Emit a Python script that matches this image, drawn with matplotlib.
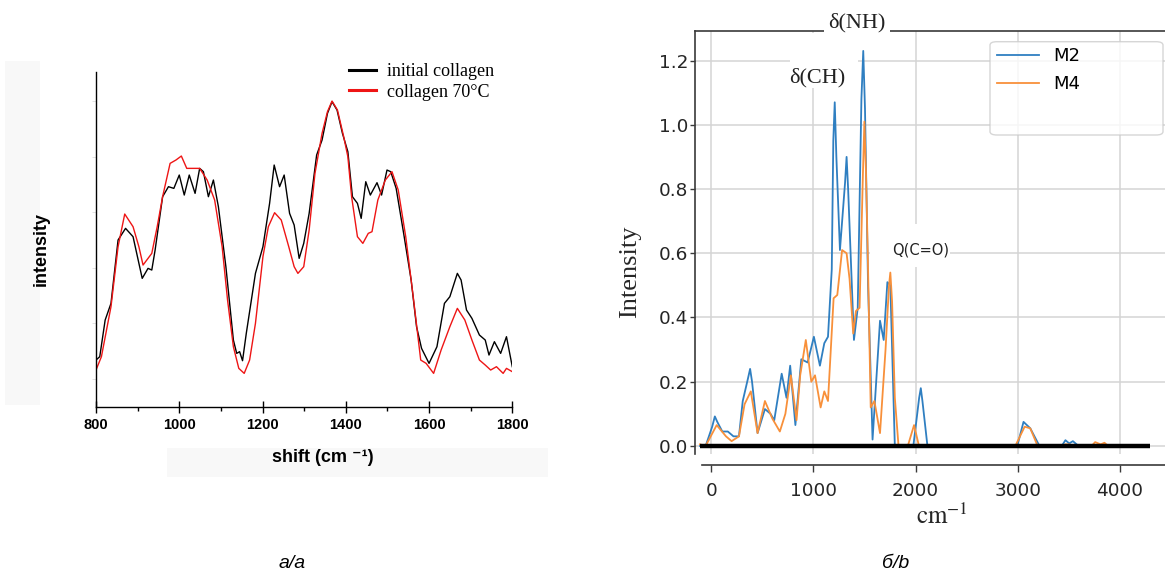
import matplotlib.pyplot as plt
from matplotlib.lines import Line2D
from matplotlib.patches import Rectangle, FancyBboxPatch

W, H = 1165, 572

# --- Raman spectra (relative intensity), 800-1800 cm-1 ---
shift_initial = [800, 809, 822, 836, 853, 871, 889, 911, 925, 934, 942, 960, 974, 987,
                 1000, 1012, 1024, 1038, 1049, 1058, 1070, 1082, 1094, 1112, 1130, 1138,
                 1145, 1152, 1161, 1183, 1201, 1217, 1228, 1241, 1252, 1265, 1276, 1288,
                 1299, 1312, 1330, 1343, 1356, 1367, 1379, 1392, 1405, 1416, 1428, 1437,
                 1448, 1459, 1475, 1486, 1499, 1508, 1521, 1539, 1557, 1570, 1582, 1600,
                 1619, 1637, 1650, 1668, 1677, 1690, 1703, 1721, 1735, 1744, 1757, 1772,
                 1786, 1800]
intensity_initial = [0.14, 0.15, 0.26, 0.31, 0.50, 0.535, 0.51, 0.385, 0.415, 0.41, 0.47,
                     0.63, 0.66, 0.655, 0.695, 0.635, 0.695, 0.64, 0.715, 0.705, 0.63, 0.68,
                     0.60, 0.42, 0.20, 0.16, 0.165, 0.138, 0.22, 0.40, 0.48, 0.61, 0.725,
                     0.66, 0.695, 0.58, 0.545, 0.445, 0.49, 0.58, 0.755, 0.80, 0.88, 0.915,
                     0.89, 0.82, 0.765, 0.63, 0.61, 0.565, 0.675, 0.635, 0.672, 0.635, 0.71,
                     0.705, 0.655, 0.52, 0.38, 0.24, 0.175, 0.13, 0.18, 0.31, 0.33, 0.40,
                     0.38, 0.29, 0.265, 0.215, 0.20, 0.155, 0.195, 0.16, 0.21, 0.12]

shift_heated = [800, 813, 836, 853, 869, 889, 903, 913, 934, 947, 960, 978, 992, 1005,
                1018, 1032, 1049, 1067, 1085, 1103, 1116, 1130, 1143, 1156, 1169, 1183,
                1201, 1214, 1229, 1245, 1263, 1276, 1285, 1299, 1312, 1326, 1343, 1356,
                1367, 1380, 1395, 1405, 1414, 1428, 1441, 1454, 1463, 1477, 1495, 1511,
                1526, 1544, 1562, 1580, 1593, 1611, 1629, 1650, 1668, 1686, 1703, 1721,
                1735, 1748, 1762, 1778, 1786, 1800]
intensity_heated = [0.11, 0.15, 0.30, 0.48, 0.578, 0.54, 0.48, 0.425, 0.46, 0.54, 0.63,
                    0.73, 0.74, 0.752, 0.715, 0.715, 0.715, 0.68, 0.62, 0.48, 0.32, 0.18,
                    0.115, 0.10, 0.14, 0.25, 0.45, 0.54, 0.582, 0.56, 0.48, 0.42, 0.40,
                    0.42, 0.53, 0.70, 0.82, 0.885, 0.917, 0.89, 0.81, 0.75, 0.63, 0.51,
                    0.49, 0.52, 0.525, 0.62, 0.68, 0.705, 0.65, 0.51, 0.33, 0.14, 0.13,
                    0.10, 0.17, 0.24, 0.295, 0.26, 0.20, 0.14, 0.125, 0.11, 0.12, 0.10,
                    0.115, 0.105]

# --- IR spectra, samples M2 and M4 ---
wn_m2 = [-110, -54, 10, 36, 60, 109, 163, 218, 272, 309, 360, 381, 400, 454, 526, 581,
         617, 690, 737, 773, 824, 882, 944, 1005, 1064, 1107, 1143, 1180, 1195, 1209,
         1225, 1260, 1310, 1325, 1340, 1397, 1434, 1470, 1488, 1505, 1535, 1579, 1652,
         1688, 1724, 1753, 1797, 1978, 2035, 2051, 2067, 2116, 2995, 3056, 3122, 3212,
         3430, 3466, 3503, 3539, 3594]
int_m2 = [0.0, 0.0, 0.06, 0.092, 0.075, 0.045, 0.045, 0.03, 0.03, 0.14, 0.21, 0.24, 0.2,
          0.04, 0.115, 0.10, 0.08, 0.225, 0.15, 0.25, 0.065, 0.27, 0.26, 0.34, 0.25, 0.32,
          0.34, 0.55, 0.95, 1.07, 0.9, 0.61, 0.82, 0.90, 0.8, 0.33, 0.43, 1.08, 1.23, 1.05,
          0.50, 0.02, 0.39, 0.33, 0.51, 0.50, 0.0, 0.0, 0.15, 0.18, 0.14, 0.0, 0.0, 0.075,
          0.055, 0.0, 0.0, 0.018, 0.008, 0.015, 0.0]

wn_m4 = [-110, -54, 54, 145, 200, 272, 327, 388, 454, 526, 599, 672, 726, 780, 835, 871,
         926, 980, 1016, 1071, 1107, 1143, 1198, 1234, 1281, 1325, 1354, 1390, 1416, 1452,
         1485, 1499, 1515, 1532, 1561, 1597, 1652, 1706, 1740, 1753, 1770, 1797, 1833,
         1924, 1985, 2033, 2976, 3067, 3122, 3194, 3430, 3466, 3503, 3539, 3721, 3757,
         3811, 3848, 3884]
int_m4 = [0.005, 0.0, 0.065, 0.03, 0.015, 0.03, 0.13, 0.17, 0.04, 0.14, 0.085, 0.045,
          0.10, 0.22, 0.08, 0.22, 0.33, 0.20, 0.22, 0.12, 0.17, 0.14, 0.46, 0.47, 0.61,
          0.60, 0.52, 0.35, 0.42, 0.43, 0.85, 1.01, 0.85, 0.60, 0.12, 0.14, 0.04, 0.30,
          0.50, 0.54, 0.45, 0.15, 0.0, 0.0, 0.065, 0.0, 0.0, 0.06, 0.055, 0.0, 0.0, 0.005,
          0.005, 0.0, 0.0, 0.012, 0.005, 0.01, 0.0]

baseline_span = [-106, 4290]
ir_xticks = [0, 1000, 2000, 3000, 4000]
ir_yticks = [0.0, 0.2, 0.4, 0.6, 0.8, 1.0, 1.2]

plt.rcParams['mathtext.fontset'] = 'stix'


def px_rect(x0, y0, x1, y1):
    """Pixel box (origin top-left) -> figure-fraction [left, bottom, width, height]."""
    return [x0 / W, 1 - y1 / H, (x1 - x0) / W, (y1 - y0) / H]


def px(x, y):
    return x / W, 1 - y / H


fig = plt.figure(figsize=(W / 100, H / 100), dpi=100)
fig.patch.set_facecolor('white')

# faint grey backing behind the left-panel axis titles
for box in [(5, 61, 40, 405), (167, 448, 548, 477)]:
    l, b, w, h = px_rect(*box)
    fig.add_artist(Rectangle((l, b), w, h, transform=fig.transFigure,
                             facecolor='#f8f8f8', edgecolor='none', zorder=0))

# ===================== left panel: Raman =====================
axL = fig.add_axes(px_rect(96, 71.7, 512.3, 406.7))
axL.patch.set_visible(False)
axL.plot(shift_initial, intensity_initial, color='black', lw=1.0)
axL.plot(shift_heated, intensity_heated, color='#ee1515', lw=1.0)
axL.set_xlim(800, 1800)
axL.set_ylim(0, 1.005)
for s in ['top', 'right']:
    axL.spines[s].set_visible(False)
for s in ['left', 'bottom']:
    axL.spines[s].set_linewidth(1.0)
axL.set_xticks(range(800, 1801, 200))
axL.set_xticks(range(900, 1800, 200), minor=True)
axL.set_yticks([])
axL.set_yticks([0.083 + k / 6 for k in range(6)], minor=True)
axL.tick_params(axis='y', which='minor', direction='out', length=3, color='#dddddd')
axL.tick_params(axis='x', which='major', direction='inout', length=8, width=1.0,
                pad=4, labelsize=10.5)
axL.tick_params(axis='x', which='minor', direction='out', length=3, width=1.0)
for lab in axL.get_xticklabels():
    lab.set_fontweight('bold')
    lab.set_family('Liberation Sans')

fig.text(*px(41.7, 249), 'intensity', rotation=90, ha='center', va='center',
         fontsize=13, fontweight='bold', family='Liberation Sans')
fig.text(*px(323, 458), 'shift (cm \u207b\u00b9)', ha='center', va='center',
         fontsize=13, fontweight='bold', family=['Liberation Sans', 'DejaVu Sans'])

handles_L = [Line2D([], [], color='black', lw=2.2), Line2D([], [], color='#ee1515', lw=2.2)]
fig.legend(handles_L, ['initial collagen', 'collagen 70\u00b0C'], loc='upper left',
           bbox_to_anchor=px(349, 63), frameon=False, borderpad=0, borderaxespad=0,
           handlelength=1.5, handletextpad=0.6, labelspacing=0.2,
           prop={'family': 'Liberation Serif', 'size': 13})

# ===================== right panel: IR =====================
axR = fig.add_axes(px_rect(694.5, 31, 1166, 454))
axR.set_xlim(-163, 4450)
axR.set_ylim(-0.025, 1.292)
axR.grid(True, color='#d4d4d4', lw=1.1)
axR.set_axisbelow(True)
axR.plot(wn_m2, int_m2, color='#2f7fc1', lw=1.3, zorder=4, label='M2')
axR.plot(wn_m4, int_m4, color='#f8903a', lw=1.3, zorder=4, label='M4')
axR.hlines(0, baseline_span[0], baseline_span[1], color='black', lw=3.2, zorder=5)

axR.spines['right'].set_visible(False)
for s in ['left', 'top', 'bottom']:
    axR.spines[s].set_color('#3a3a3a')
    axR.spines[s].set_linewidth(1.2)
axR.spines['bottom'].set_position(('outward', 8))
axR.spines['bottom'].set_bounds(-85, 4450)
axR.set_xticks(ir_xticks)
axR.set_yticks(ir_yticks)
axR.set_yticklabels([f'{v:.1f}' for v in ir_yticks])
axR.tick_params(axis='both', color='#3a3a3a', width=1.0, labelsize=13.3,
                labelcolor='#262626')
axR.tick_params(axis='y', length=3.6, pad=1)
axR.tick_params(axis='x', length=4.8, pad=7.5)

fig.text(*px(630, 272), 'Intensity', rotation=90, ha='center', va='center',
         fontsize=19, family='Liberation Serif', color='#262626')
fig.text(*px(942, 516), r'$\mathrm{cm}^{-1}$', ha='center', va='center',
         fontsize=18, color='#262626')

# white label backings that break the frame / grid lines
for box in [(790, 33, 858, 88), (870, 224, 950, 267)]:
    l, b, w, h = px_rect(*box)
    axR.add_artist(Rectangle((l, b), w, h, transform=fig.transFigure, facecolor='white',
                             edgecolor='none', zorder=3, clip_on=False))
axR.text(1427, 1.319, '\u03b4(NH)', ha='center', va='center', fontsize=16,
         family='Liberation Serif', color='#222222', zorder=3.1,
         bbox=dict(facecolor='white', edgecolor='none', boxstyle='square,pad=0.2'))
axR.text(1040, 1.148, '\u03b4(CH)', ha='center', va='center', fontsize=16,
         family='Liberation Serif', color='#222222', zorder=3.1)
axR.text(2045, 0.609, 'Q(C=O)', ha='center', va='center', fontsize=10.5,
         color='#222222', zorder=3.1)

# legend frame with the two sample entries
l, b, w, h = px_rect(990, 41.7, 1163, 135)
axR.add_artist(FancyBboxPatch((l, b), w, h, boxstyle='round,pad=0,rounding_size=0.006',
                              transform=fig.transFigure, facecolor='white', alpha=0.8,
                              edgecolor='#cccccc', lw=1.0, zorder=4.5, clip_on=False))
axR.legend(loc='upper left', bbox_to_anchor=px(997, 47), bbox_transform=fig.transFigure,
           frameon=False, borderpad=0, borderaxespad=0, handlelength=2.3,
           handletextpad=0.8, labelspacing=0.55, prop={'size': 13})

# panel captions
fig.text(*px(292, 563), '\u0430/a', ha='center', va='center', fontsize=14,
         style='italic', family='Liberation Sans')
fig.text(*px(896, 563), '\u0431/b', ha='center', va='center', fontsize=14,
         style='italic', family='Liberation Sans')

fig.savefig('out.png', dpi=100)
